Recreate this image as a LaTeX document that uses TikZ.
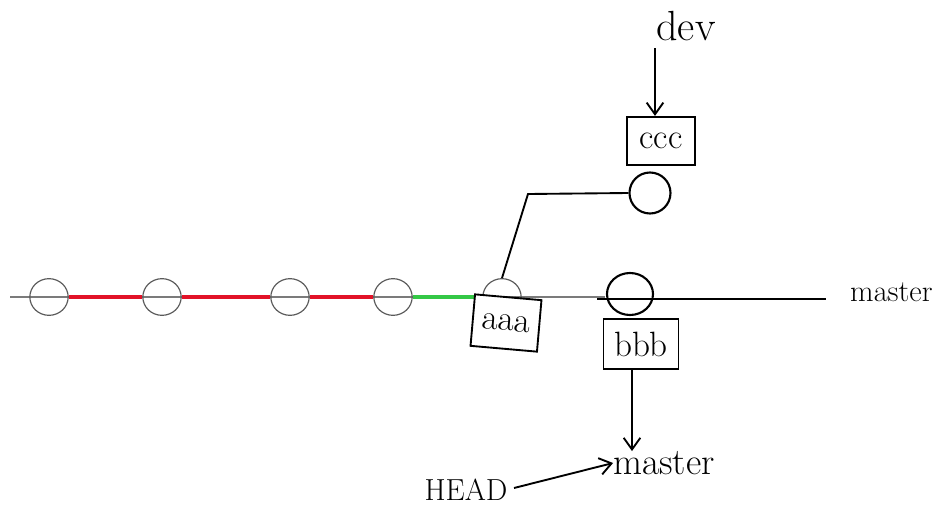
\documentclass[tikz,border=0pt]{standalone}
\usetikzlibrary{arrows.meta,shapes.geometric}
\definecolor{branchred}{RGB}{226,18,40}
\definecolor{branchgreen}{RGB}{52,200,70}
\definecolor{commitgray}{RGB}{90,90,90}
\begin{document}
\begin{tikzpicture}[x=0.03cm,y=-0.03cm,
  commit/.style={draw=commitgray,line width=1pt,ellipse,inner sep=0pt,minimum width=1.15cm,minimum height=1.1cm},
  newcommit/.style={draw=black,line width=1.8pt,ellipse,inner sep=0pt,minimum width=1.38cm,minimum height=1.26cm},
  grayline/.style={draw=commitgray!80,line width=1.2pt},
  redline/.style={draw=branchred,line width=3pt},
  greenline/.style={draw=branchgreen,line width=3pt},
  ink/.style={draw=black,line width=1.6pt},
  label/.style={inner sep=0pt,font=\fontsize{30}{32}\selectfont},
  msgbox/.style={draw=black,line width=1.6pt,fill=white,inner sep=0pt,font=\fontsize{30}{32}\selectfont},
  pointer/.style={ink,-{Straight Barb[length=3.5mm,width=5mm,line width=1.6pt]}}
]
\useasboundingbox (0,0) rectangle (939,528);
% main gray line
\coordinate (gl) at (10,297);
\coordinate (ge) at (605,297);
\draw[grayline] (gl) -- (ge);
% commits
\node[commit] (c1) at (49,297) {};
\node[commit] (c2) at (162,297) {};
\node[commit] (c3) at (290,297) {};
\node[commit] (c4) at (393,297) {};
\node[commit] (c5) at (502,297) {};
\draw[redline] (c1.east) -- (c2.west);
\draw[redline] (c2.east) -- (c3.west);
\draw[redline] (c3.east) -- (c4.west);
\draw[greenline] (c4.east) -- (c5.west);
% master line (black)
\coordinate (ms) at (597,299);
\coordinate (me) at (826,299);
\draw[ink,line width=2pt] (ms) -- (me);
\node[newcommit] (c6) at (630,294) {};
\node[label,anchor=west,font=\fontsize{26}{28}\selectfont] (m1) at (850,292) {master};
% aaa box
\node[msgbox,rotate=-5,minimum width=2.0cm,minimum height=1.55cm] (a) at (506,323) {aaa};
% bbb box
\node[msgbox,minimum width=2.25cm,minimum height=1.5cm] (b) at (641,344) {bbb};
% dev branch
\node[newcommit,minimum width=1.23cm,minimum height=1.23cm] (c7) at (650,193) {};
\coordinate (bend) at (528,194);
\draw[ink] (c5.north) -- (bend) -- (c7.west);
\node[msgbox,minimum width=2.05cm,minimum height=1.45cm] (c) at (661,141) {ccc};
\node[label,font=\fontsize{36}{38}\selectfont] (dev) at (686,26) {dev};
\coordinate (devstart) at (655,48);
\draw[pointer] (devstart) -- (c.north -| devstart);
% HEAD -> master
\node[label,font=\fontsize{32}{34}\selectfont] (m2) at (664,463) {master};
\node[label,font=\fontsize{26}{28}\selectfont] (head) at (466,490) {HEAD};
\coordinate (hs) at (514,488);
\draw[pointer] (b.south -| 632,0) -- (m2.north -| 632,0);
\draw[pointer] (hs) -- (m2.west);
\end{tikzpicture}
\end{document}
